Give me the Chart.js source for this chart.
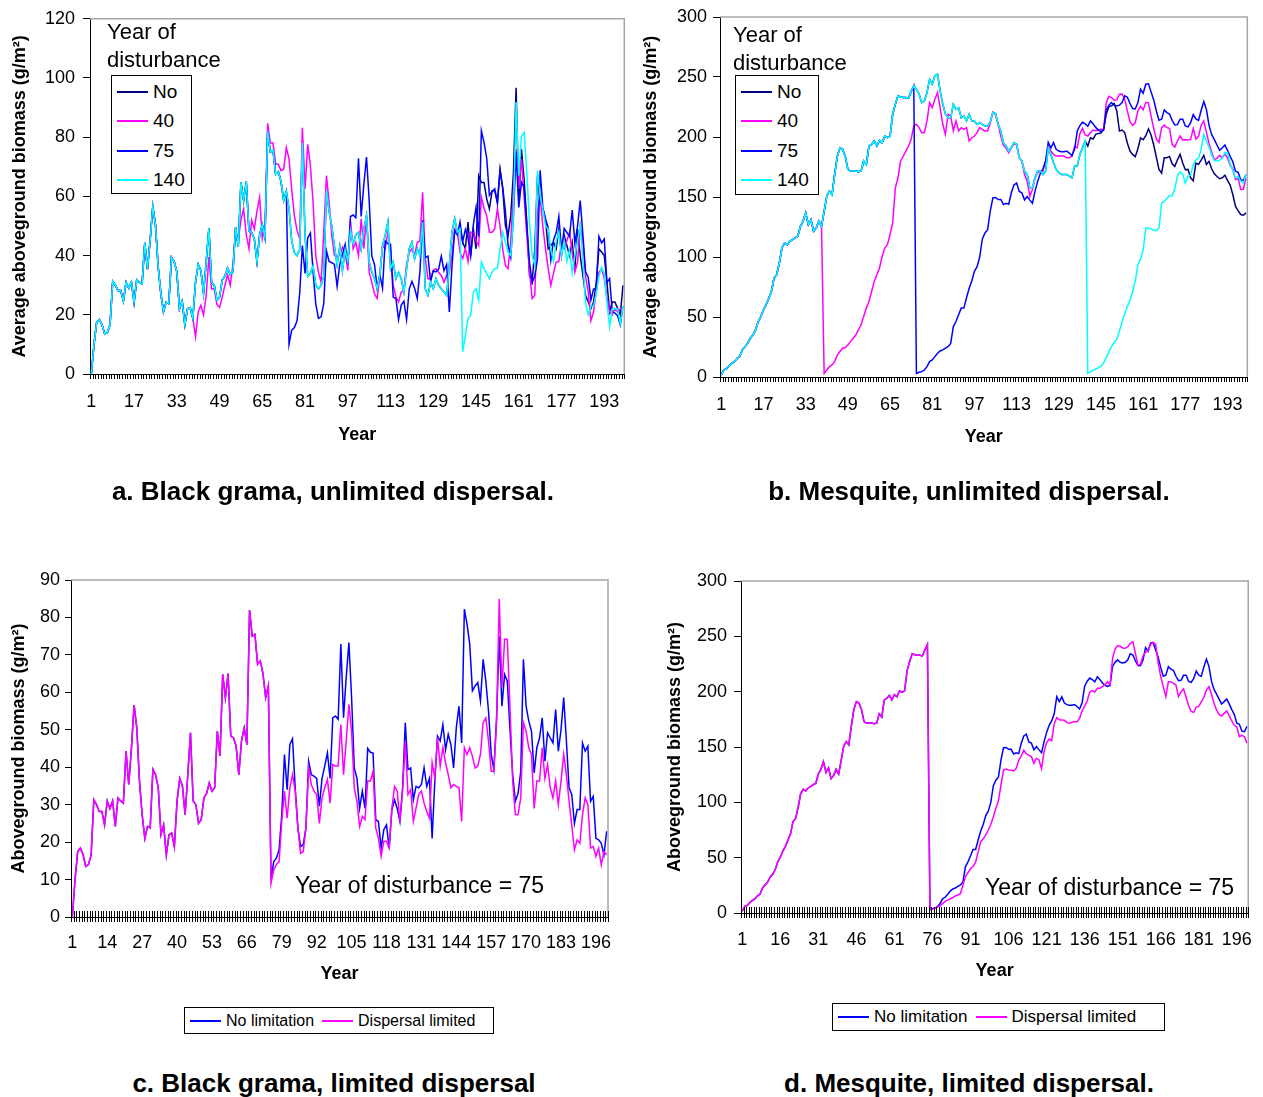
<!DOCTYPE html>
<html>
<head>
<meta charset="utf-8">
<title>Aboveground biomass after disturbance</title>
<script src="https://cdn.jsdelivr.net/npm/chart.js@4.4.0/dist/chart.umd.min.js"></script>
<style>
  body { margin: 0; background: #fff; font-family: "Liberation Sans", Arial, Helvetica, sans-serif; color: #000; }
  #page { position: relative; width: 1263px; height: 1097px; overflow: hidden; }
  canvas { position: absolute; }
  .note { position: absolute; font-size: 22px; line-height: 28px; white-space: nowrap; }
  .caption { position: absolute; font-size: 26px; font-weight: bold; line-height: 30px; text-align: center; white-space: nowrap; }
  .legend { position: absolute; border: 1px solid #000; background: #fff; box-sizing: border-box; }
  .legend.vert { padding-top: 1px; font-size: 19px; }
  .legend.vert .row { display: flex; align-items: center; height: 29.5px; }
  .legend.horiz { display: flex; align-items: center; font-size: 16px; }
  .legend .swatch { display: inline-block; width: 31px; height: 2px; margin: 0 5px 0 5px; }
  .legend.horiz .item { display: flex; align-items: center; margin-right: 3px; }
</style>
</head>
<body>
<div id="page">
  <canvas id="chartA" width="640" height="450" style="left:0;top:0"></canvas>
  <canvas id="chartB" width="623" height="450" style="left:640px;top:0"></canvas>
  <canvas id="chartC" width="640" height="500" style="left:0;top:500px"></canvas>
  <canvas id="chartD" width="623" height="500" style="left:640px;top:500px"></canvas>

  <div class="note" style="left:107px;top:18px">Year of<br>disturbance</div>
  <div id="legA" class="legend vert" style="left:111px;top:75px;width:81px;height:119px"></div>
  <div class="note" style="left:733px;top:21px">Year of<br>disturbance</div>
  <div id="legB" class="legend vert" style="left:735px;top:75px;width:84px;height:120px"></div>

  <div class="note" style="left:295px;top:871px;font-size:23px">Year of disturbance = 75</div>
  <div class="note" style="left:985px;top:873px;font-size:23px">Year of disturbance = 75</div>
  <div id="legC" class="legend horiz" style="left:184px;top:1007px;width:310px;height:27px"></div>
  <div id="legD" class="legend horiz" style="left:832px;top:1003px;width:333px;height:28px;font-size:17px"></div>

  <div class="caption" style="left:0;width:666px;top:476px">a. Black grama, unlimited dispersal.</div>
  <div class="caption" style="left:676px;width:586px;top:476px">b. Mesquite, unlimited dispersal.</div>
  <div class="caption" style="left:0;width:668px;top:1068px">c. Black grama, limited dispersal</div>
  <div class="caption" style="left:676px;width:586px;top:1068px">d. Mesquite, limited dispersal.</div>
</div>

<script>
// simulation years 1..200
const years = Array.from({ length: 200 }, (_, i) => String(i + 1));

// ---- black grama (g/m2) ----
// years 1-74, shared by every run
const gramaBase = [
  0, 10, 17.5, 18.4, 16.6, 13.5, 14, 16.6, 31.3, 30,
  28.2, 28.2, 24.6, 31, 29, 31, 24.2, 31.8, 31, 30.4,
  44.3, 35.4, 45, 56.6, 50.5, 36.3, 27.3, 21, 24.2, 23.8,
  39.4, 38, 34.5, 22, 24.6, 16.6, 22, 22.4, 18.8, 31,
  37, 35, 27.3, 38, 49.2, 31, 30, 25, 26, 31.8,
  33, 35.8, 33.6, 34.5, 49.6, 43, 64.8, 58.6, 65, 48.3,
  47.9, 45.6, 38, 47, 50.5, 46, 82, 75, 75.5, 67.5,
  68.4, 65, 58.6, 61.7
];
// no disturbance, years 75-200
const gramaNoLate = [
  56, 45, 41, 40, 42, 78, 47, 33, 34, 36.5,
  30, 28.8, 30, 33, 62, 55, 50, 43, 37, 43,
  35, 42, 38, 48.5, 44, 47, 47.9, 42.3, 49, 53.5,
  37.8, 34.4, 32.2, 28.8, 33.3, 43.4, 46.8, 51.3, 35.6, 37.8,
  32.2, 34.4, 32.2, 27.7, 35.6, 42.3, 44.5, 38.9, 42.3, 40,
  51.3, 28.8, 26.6, 31, 28.8, 32.2, 30, 28.8, 27.7, 26.6,
  36.7, 47.9, 52.4, 47.9, 49, 44.5, 42.3, 51.3, 40, 49,
  42.3, 67, 64.7, 64.7, 59.1, 55.8, 61.9, 61.9, 58, 69.2,
  62.5, 50.1, 46.8, 53.5, 68.1, 96.7, 58, 76, 65.9, 51.3,
  33.3, 31, 42.3, 67, 58, 55.8, 52.4, 42.3, 43.4, 44.5,
  42.3, 49, 40, 46.8, 43.4, 40, 44.5, 35.6, 49, 40,
  33.3, 26.6, 24.3, 22.1, 24.3, 31, 42.3, 41.2, 40, 31,
  21, 24.3, 24.3, 22.1, 19.9, 30
];
// disturbed in year 40, years 40-200
const grama40 = [
  12.6, 21, 23.2, 19.9, 26.6, 39.5, 28.8, 28.8, 23.5, 22.5,
  26, 30, 33.5, 30, 37, 48, 45.5, 52, 55.8, 47,
  42.3, 52, 49, 55, 59.7, 45.7, 50, 84.7, 78, 78,
  70.9, 70.9, 68.7, 69.2, 76.5, 72.6, 62.5, 53.5, 48.5, 45.7,
  83.2, 62.5, 77.6, 70.3, 58, 40, 34.4, 31, 47.9, 67,
  58, 46.8, 40, 39.5, 40, 42.9, 41.2, 35, 51.8, 42.3,
  44.5, 40, 52.4, 42.3, 53.5, 34.4, 31, 27, 25.5, 33.3,
  43.4, 42.3, 47.9, 42, 30, 26, 24.3, 27.7, 28.2, 37,
  41, 42.3, 40, 44.5, 45, 61.4, 39, 32.2, 32.2, 35,
  35.6, 34.4, 33.3, 31, 33.3, 34.4, 40, 49, 48, 41,
  39, 42.3, 38, 47.9, 47.9, 45, 43.4, 59.7, 56, 53.5,
  47.9, 47.9, 49, 55.8, 50, 42, 36.7, 35.6, 45, 62,
  76, 62.5, 72.6, 60, 47, 35, 25.5, 26.6, 55, 60,
  50, 42.3, 35.6, 30, 34, 37.8, 38, 44.5, 42.3, 45,
  47.9, 41, 34.4, 37.8, 50, 45, 33, 27.7, 18, 21,
  28, 34.4, 35.6, 32.2, 26, 21, 20, 22.1, 21, 22,
  22.1
];
// disturbed in year 75, unlimited dispersal, years 75-200
const grama75 = [
  10, 14.8, 15.7, 18, 27.3, 43.4, 34, 46, 47.6, 34.5,
  23.8, 18.8, 19.3, 23.8, 41.6, 38, 37.6, 37, 29.6, 37,
  40.3, 43.8, 37, 53.2, 53.7, 52.8, 72.9, 53.2, 64, 73.3,
  58.6, 39.8, 37, 29, 33.6, 29, 45, 44, 43.8, 26,
  25.5, 18.4, 23.3, 24.6, 18.4, 28.7, 31.3, 29, 25.5, 34.5,
  51.9, 39.4, 39.8, 31.3, 34.9, 34.5, 35.4, 39.8, 34.9, 37,
  21, 36.3, 48.3, 47, 51.4, 44.7, 48.8, 46, 39.8, 50.5,
  56.3, 46.5, 82.2, 78.2, 72.9, 60.4, 61.7, 62.6, 57.7, 68.8,
  63, 55, 43.4, 39.4, 53.2, 75, 56.3, 64.8, 63, 50,
  38, 30.9, 33, 38.9, 68.8, 56.3, 52.3, 49.6, 38.5, 45.2,
  47.8, 53.2, 41.6, 49.2, 47.8, 46.5, 55.4, 44.3, 50, 58.6,
  47, 34.5, 32.7, 25, 28.7, 28.7, 46.5, 44.3, 45.6, 30.9,
  32.2, 21, 20.6, 19.7, 16.6, 22.9
];
// disturbed in year 75, dispersal limited, years 75-200
const gramaLimited75 = [
  9, 12.6, 14, 14.8, 25.5, 33.6, 26.4, 34.5, 38, 33.6,
  23.8, 17, 17.5, 23.8, 39.8, 35.4, 33.6, 32.7, 25, 31.8,
  34.5, 36.7, 30.4, 40.7, 40.3, 40.3, 51.4, 38, 47, 56.8,
  49.6, 34.5, 30.9, 24.2, 26.9, 26, 36.3, 36.3, 38.9, 23.8,
  21, 16.2, 20.2, 20.2, 18.4, 29, 34.9, 33.6, 25.5, 33.6,
  47, 32.7, 34, 25.5, 29, 32.7, 33.6, 30.4, 28.2, 26.4,
  41.2, 37, 47.9, 40.3, 45.2, 41.2, 38, 34.5, 35.4, 34.9,
  34.5, 25.5, 45.2, 43.4, 45.2, 42.9, 39.8, 40.3, 43.4, 51.9,
  53.2, 47, 38.9, 38.9, 52.3, 84.9, 61.3, 74.2, 74.2, 55.9,
  36.3, 27.3, 27.3, 31.8, 51.9, 49.6, 45.2, 43.4, 29, 36.3,
  36.3, 45.2, 37, 40.7, 34.5, 31.8, 36.3, 30, 36.3, 43.4,
  38, 30.9, 24.6, 17.9, 20.6, 19.7, 27.3, 31.8, 30, 18.4,
  18.8, 16.2, 18.4, 13.9, 17.5, 16.6
];
// disturbed in year 140, years 140-200
const grama140 = [
  7.5, 13, 18.7, 19.9, 27.7, 28.8, 24.9, 37.8, 35.6, 33.9,
  32.2, 34.4, 35.6, 35.6, 42.3, 47.9, 44.5, 41.2, 40, 53.5,
  91.9, 67, 80.4, 81.6, 68.1, 51.3, 40, 36.7, 68.7, 60.2,
  55.8, 50.1, 49, 42, 38, 45, 48, 40, 45, 38,
  42, 34, 40, 45, 50, 38, 24, 20, 23, 23,
  27, 33, 36, 34, 24, 16, 22, 22, 22, 17,
  23
];

// ---- mesquite (g/m2) ----
const mesqBase = [
  1.7, 6, 7, 9.5, 11.4, 12.8, 15.6, 17, 22.6, 25.3,
  28, 32.3, 35, 39.3, 46.2, 50.4, 56, 60.2, 65.7, 71.3,
  82.5, 85.2, 95, 107.5, 111.7, 110.3, 113, 114.5, 115.9, 117.3,
  125.6, 129.8, 136.8, 127, 131.2, 121.4, 124.2, 129.8, 125.6, 138,
  150.7, 154.9, 152, 168.8, 184, 191, 189.7, 184, 173, 171.6,
  171.6, 171.6, 171, 171.6, 180, 177, 192.5, 193.9, 196.7, 192.5,
  197.2, 195.3, 200.8, 199.4, 200.8, 219, 227.3, 234.3, 233.4, 232.9,
  232.9, 232.3, 237.9, 242.6
];
const mesqNoLate = [
  239.8, 235.7, 228.7, 230, 237, 248.2, 244, 251, 252.4, 238.4,
  227.3, 219, 216, 216, 227.3, 223, 224.5, 216, 217.5, 213.4,
  219, 213.4, 213.4, 210.6, 212, 210.6, 209.2, 209.2, 212.5, 220.6,
  219.5, 210.6, 205, 195.3, 192.5, 188.3, 191, 195.3, 193.9, 182.7,
  180, 171.6, 168.8, 157.7, 157.7, 166, 171.6, 171.6, 168.8, 171.6,
  191, 185.5, 178.6, 173, 170.2, 168.8, 168.8, 168.8, 167.4, 166,
  175.8, 175.8, 185.5, 191, 196.7, 192.5, 199.4, 198.3, 202.2, 203,
  203.3, 206.4, 219, 225.3, 225.9, 227.9, 221.7, 205, 205.8, 203.6,
  195, 188.3, 185.5, 183.6, 190.2, 199.2, 197.8, 201.1, 206.7, 201.7,
  193.3, 183.3, 173, 169.9, 182.7, 182.7, 183.8, 177.7, 175.5, 181,
  185.5, 178.3, 172.7, 173, 166, 163.5, 178.3, 177.2, 180.8, 184.7,
  177.2, 179.7, 173.3, 169.4, 167.1, 165.2, 166, 168.2, 163.8, 159.9,
  152.1, 142.3, 138.7, 135.4, 134.8, 136.8
];
const mesq40 = [
  3, 5.8, 8.6, 10, 12.8, 18.4, 21.2, 24, 24.5, 26.7,
  29.5, 32.3, 35, 39.3, 43.5, 50.4, 57.4, 63, 71.3, 79.7,
  85.2, 90.8, 100.6, 107.5, 110.3, 118.7, 128.4, 157.7, 166, 180,
  184, 188.3, 192.5, 198, 209.2, 210.6, 207.8, 203.6, 203.6, 213.4,
  228.7, 224.5, 231.5, 237, 224.5, 210.6, 202.2, 219, 217.5, 205,
  213.4, 205, 207.8, 206.4, 207.8, 196.7, 199.4, 200.8, 203.6, 207.8,
  206.4, 205, 205, 211.7, 220.6, 218.4, 210.6, 200.8, 193, 190.8,
  186.9, 191, 193.9, 193.9, 182.7, 180, 168.8, 163.2, 150.7, 156.3,
  166, 170.2, 171.6, 171.6, 180, 193, 188.3, 185.5, 184.1, 184.1,
  184.1, 184.1, 182.7, 182.7, 184.1, 192.2, 191, 202.8, 207.2, 201.7,
  200.8, 203.6, 205.8, 205.3, 206.1, 206.4, 206.4, 228.7, 234, 232.9,
  230.6, 230.9, 235.7, 235.9, 231.5, 221.7, 212.8, 209.5, 212, 221.7,
  225.6, 222.8, 228.7, 228.4, 217.3, 207.2, 198.3, 195.5, 207.8, 210,
  207.8, 207.2, 193.9, 191.6, 196.7, 200.8, 197.5, 197.8, 197.5, 198,
  207, 198.3, 200.6, 209.7, 213.4, 203.9, 194.4, 187.2, 181.3, 182.2,
  184.7, 182.7, 186, 182.7, 176.3, 173.5, 164.6, 165.5, 156.3, 156.5,
  166
];
const mesq75 = [
  3, 3.9, 4.5, 5.8, 8.6, 12.8, 14.2, 17, 19.8, 21.7,
  22.6, 24, 25.3, 28, 42, 46.2, 51.8, 57.4, 57.4, 66,
  74, 80, 88, 92, 100, 115, 120, 122.8, 138.2, 149.3,
  149.6, 147.9, 147.9, 143.7, 144.8, 144, 153.5, 160, 161.6, 154.6,
  153.5, 147.6, 150.4, 147.4, 144.8, 154.9, 163.2, 169.6, 173.5, 180,
  195.5, 191, 195.3, 189.7, 188.3, 187.7, 187.7, 188.3, 186.6, 184.4,
  190, 205, 209.5, 212.3, 211, 208.9, 213.4, 211, 208, 205.8,
  204.7, 205.6, 222.8, 226.5, 228.7, 226.5, 225.9, 226.5, 228.7, 234.3,
  233.1, 227.9, 223.7, 223.4, 228.7, 239.8, 236.5, 244, 244.3, 237.6,
  230.9, 221.7, 213.9, 214.8, 222.6, 220.3, 219.2, 213.9, 210, 210.3,
  214.8, 214.8, 209.2, 208.4, 212, 218.7, 215, 213.9, 222.3, 229.5,
  222.8, 209.5, 202, 197.8, 193.3, 188.9, 191, 193.3, 188.9, 183.8,
  179.4, 171.6, 170.5, 164.3, 163.8, 168.8
];
const mesqLimited75 = [
  3, 3.5, 4.2, 5.5, 6.5, 8.5, 10.5, 11.7, 12.8, 14,
  15.5, 16.3, 17.5, 25, 33, 36.5, 40, 42, 46, 55,
  64.5, 67, 70.5, 75, 80, 87, 94.6, 101.2, 115.7, 128.9,
  130.1, 129.2, 128.9, 128.3, 130.7, 138, 141.9, 147, 144, 142.5,
  141.3, 135.2, 139.8, 138.3, 130.4, 145.8, 153.9, 157.2, 155.7, 170.8,
  176.5, 174.7, 174.4, 174.1, 172, 171.4, 172.3, 172.9, 172.9, 175.9,
  182.8, 187, 191.6, 199.7, 200.9, 199.7, 203, 203, 204.5, 206.3,
  209, 206, 230.1, 238.6, 241.6, 241, 239.5, 239.2, 240.4, 243.7,
  245.2, 234.6, 224.1, 224.7, 232.2, 235.5, 236.7, 242.8, 244.6, 242.8,
  225.6, 213.6, 204.5, 195.5, 209, 209, 207.5, 206, 195.5, 200,
  202.4, 194.9, 187.3, 182.2, 181.3, 186.1, 186.7, 191, 194.9, 201.5,
  204.5, 197.9, 189.5, 183.4, 179.5, 178, 180.4, 182.5, 178.3, 173.5,
  169.6, 168.1, 159.3, 160.5, 159.3, 153.3
];
const mesq140 = [
  3, 4.5, 5.6, 6.7, 7.8, 8.9, 11.7, 16.4, 20.9, 25.3,
  28.7, 31.5, 38.4, 46, 52.6, 59, 63.5, 71.3, 80.2, 93.6,
  98.3, 105.8, 124.2, 124.2, 123.4, 122.3, 122, 124.2, 144.8, 146.5,
  148.7, 151.3, 151, 156.8, 167.7, 171, 169.1, 161.6, 167.4, 168.2,
  176.6, 180.8, 182.5, 189.7, 202.2, 196.4, 191.4, 185, 180.5, 180,
  180.5, 182.7, 187.2, 186.6, 177.7, 172.1, 166, 167.1, 163.2, 161.6,
  168.8
];

// whole 200-year runs
const gramaNo = gramaBase.concat(gramaNoLate);
const gramaD40 = gramaBase.slice(0, 39).concat(grama40);
const gramaD75 = gramaBase.concat(grama75);
const gramaD140 = gramaNo.slice(0, 139).concat(grama140);
const gramaLim = gramaBase.concat(gramaLimited75);

const mesqNo = mesqBase.concat(mesqNoLate);
const mesqD40 = mesqBase.slice(0, 39).concat(mesq40);
const mesqD75 = mesqBase.concat(mesq75);
const mesqD140 = mesqNo.slice(0, 139).concat(mesq140);
const mesqLim = mesqBase.concat(mesqLimited75);

const NAVY = '#000080', MAGENTA = '#ff00ff', BLUE = '#0000ff', CYAN = '#00ffff';

Chart.defaults.font.family = '"Liberation Sans", Arial, Helvetica, sans-serif';
Chart.defaults.color = '#000';

function line(label, data, color) {
  return { label: label, data: data, borderColor: color, backgroundColor: color,
           borderWidth: 1.5, pointRadius: 0, pointHoverRadius: 0, tension: 0, fill: false };
}

// gray frame on top/right, and a tick for every year on the x axis
const frame = {
  id: 'frame',
  afterDraw(chart, args, opts) {
    const ctx = chart.ctx, a = chart.chartArea, x = chart.scales.x;
    ctx.save();
    ctx.strokeStyle = '#a6a6a6';
    ctx.lineWidth = 1.5;
    ctx.beginPath();
    ctx.moveTo(a.left, a.top);
    ctx.lineTo(a.right, a.top);
    ctx.lineTo(a.right, a.bottom);
    ctx.stroke();
    const n = x.ticks.length, w = (x.right - x.left) / n;
    ctx.strokeStyle = '#000';
    ctx.lineWidth = 1;
    ctx.beginPath();
    for (let i = 0; i <= n; i++) {
      const px = Math.round(x.left + i * w) + 0.5;
      ctx.moveTo(px, a.bottom - opts.up);
      ctx.lineTo(px, a.bottom + opts.down);
    }
    ctx.stroke();
    ctx.restore();
  }
};

function panel(id, datasets, o) {
  // later series are painted over earlier ones
  datasets.forEach((ds, i) => { ds.order = datasets.length - i; });
  return new Chart(document.getElementById(id), {
    type: 'line',
    data: { labels: years, datasets: datasets },
    plugins: [frame],
    options: {
      responsive: false,
      animation: false,
      events: [],
      layout: { padding: o.pad },
      plugins: {
        legend: { display: false },
        tooltip: { enabled: false },
        frame: { up: o.tickUp, down: o.tickDown }
      },
      scales: {
        x: {
          type: 'category',
          offset: true,
          grid: { display: false, drawTicks: false },
          border: { display: true, color: '#000', width: 1 },
          ticks: {
            autoSkip: false, maxRotation: 0, minRotation: 0,
            padding: o.xTickPad, font: { size: 18 },
            callback: function (v, i) { return i % o.every === 0 ? this.getLabelForValue(v) : ''; }
          },
          title: { display: true, text: 'Year', font: { size: 18, weight: 'bold' },
                   padding: { top: 0, bottom: o.xTitlePad } },
          afterFit: s => { s.height = o.xHeight; }
        },
        y: {
          min: 0, max: o.max,
          grid: { drawOnChartArea: false, drawTicks: true, tickLength: o.yTick, color: '#000' },
          border: { display: true, color: '#000', width: 1 },
          ticks: { stepSize: o.stepSize, padding: o.yTickPad, font: { size: 18 } },
          title: { display: true, text: o.yTitle, font: { size: 18, weight: 'bold' },
                   padding: { top: o.yTitlePad, bottom: 0 } },
          afterFit: s => { s.width = o.yWidth; }
        }
      }
    }
  });
}

function legend(el, chart, vertical) {
  chart.data.datasets.forEach(ds => {
    const item = document.createElement('div');
    item.className = vertical ? 'row' : 'item';
    const sw = document.createElement('span');
    sw.className = 'swatch';
    sw.style.background = ds.borderColor;
    const t = document.createElement('span');
    t.textContent = ds.label;
    item.appendChild(sw);
    item.appendChild(t);
    el.appendChild(item);
  });
}

const chartA = panel('chartA', [
  line('No', gramaNo, NAVY),
  line('40', gramaD40, MAGENTA),
  line('75', gramaD75, BLUE),
  line('140', gramaD140, CYAN)
], { pad: { left: 0, top: 18, right: 15, bottom: 0 }, yWidth: 90, xHeight: 76,
     max: 120, stepSize: 20, every: 16, yTick: 7, yTickPad: 8, xTickPad: 17,
     yTitle: 'Average aboveground biomass (g/m²)', yTitlePad: 9, xTitlePad: 4,
     tickUp: 0, tickDown: 5 });

const chartB = panel('chartB', [
  line('No', mesqNo, NAVY),
  line('40', mesqD40, MAGENTA),
  line('75', mesqD75, BLUE),
  line('140', mesqD140, CYAN)
], { pad: { left: 0, top: 17, right: 3, bottom: 0 }, yWidth: 80, xHeight: 73,
     max: 300, stepSize: 50, every: 16, yTick: 7, yTickPad: 6, xTickPad: 17,
     yTitle: 'Average aboveground biomass (g/m²)', yTitlePad: 0, xTitlePad: 2,
     tickUp: 0, tickDown: 5 });

const chartC = panel('chartC', [
  line('No limitation', gramaD75, BLUE),
  line('Dispersal limited', gramaLim, MAGENTA)
], { pad: { left: 0, top: 80, right: 32, bottom: 0 }, yWidth: 71, xHeight: 83,
     max: 90, stepSize: 10, every: 13, yTick: 6, yTickPad: 5, xTickPad: 15,
     yTitle: 'Aboveground biomass (g/m²)', yTitlePad: 8, xTitlePad: 15,
     tickUp: 6, tickDown: 5 });

const chartD = panel('chartD', [
  line('No limitation', mesqD75, BLUE),
  line('Dispersal limited', mesqLim, MAGENTA)
], { pad: { left: 0, top: 81, right: 6, bottom: 0 }, yWidth: 101, xHeight: 87,
     max: 300, stepSize: 50, every: 15, yTick: 7, yTickPad: 7, xTickPad: 16,
     yTitle: 'Aboveground biomass (g/m²)', yTitlePad: 24, xTitlePad: 18,
     tickUp: 6, tickDown: 5 });

legend(document.getElementById('legA'), chartA, true);
legend(document.getElementById('legB'), chartB, true);
legend(document.getElementById('legC'), chartC, false);
legend(document.getElementById('legD'), chartD, false);
</script>
</body>
</html>
